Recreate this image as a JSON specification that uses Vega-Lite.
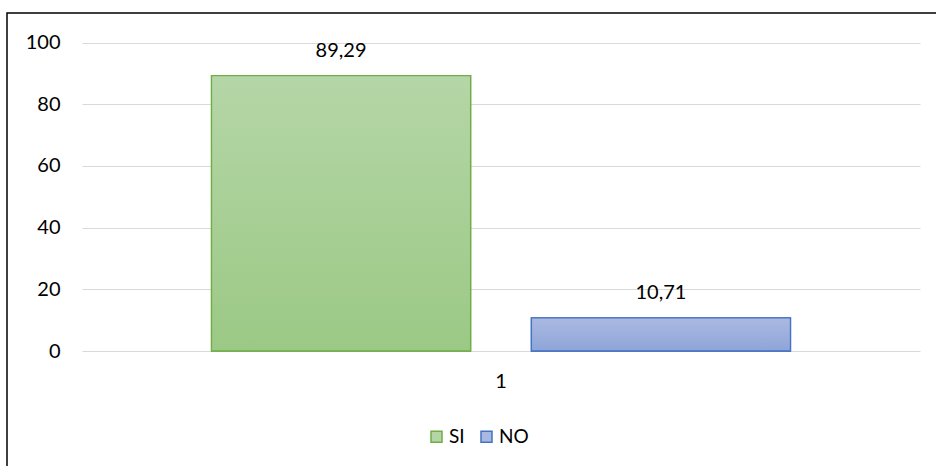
{
  "$schema": "https://vega.github.io/schema/vega-lite/v6.json",
  "width": 932,
  "height": 456,
  "autosize": {"type": "none"},
  "padding": {"left": 7, "top": 13, "right": -3, "bottom": -3},
  "background": "white",
  "config": {
    "locale": {"number": {"decimal": ",", "thousands": ".", "grouping": [3], "currency": ["", " €"]}},
    "view": {"stroke": "#000000", "strokeWidth": 1.5},
    "font": "Lato",
    "text": {"font": "Lato"}
  },
  "data": {
    "values": [
      {"category": "1", "series": "SI", "value": 89.29},
      {"category": "1", "series": "NO", "value": 10.71}
    ]
  },
  "encoding": {
    "x": {
      "field": "category",
      "type": "nominal",
      "scale": {"range": [75, 913], "paddingOuter": 0.2237, "paddingInner": 0},
      "axis": {
        "orient": "bottom",
        "offset": -118,
        "domain": false,
        "ticks": false,
        "tickSize": 0,
        "grid": false,
        "labelAngle": 0,
        "labelPadding": 20,
        "labelFontSize": 20,
        "labelColor": "#000000",
        "labelFont": "Lato",
        "title": null
      }
    },
    "xOffset": {
      "field": "series",
      "type": "nominal",
      "scale": {"domain": ["SI", "NO"], "paddingInner": 0.19, "paddingOuter": 0}
    },
    "y": {
      "field": "value",
      "type": "quantitative",
      "scale": {"domain": [0, 100], "range": [338, 29.5], "nice": false, "zero": true},
      "axis": {
        "orient": "left",
        "offset": -75,
        "values": [0, 20, 40, 60, 80, 100],
        "domain": false,
        "ticks": false,
        "tickSize": 0,
        "grid": true,
        "gridColor": "#d9d9d9",
        "gridWidth": 1,
        "labelPadding": 22,
        "labelFontSize": 20,
        "labelColor": "#000000",
        "labelFont": "Lato",
        "title": null
      }
    }
  },
  "layer": [
    {
      "mark": {"type": "bar", "strokeWidth": 1.3},
      "encoding": {
        "fill": {
          "field": "series",
          "type": "nominal",
          "scale": {"domain": ["SI", "NO"], "range": ["#b4d5a5", "#a9b8e0"]},
          "legend": {
            "orient": "none",
            "legendX": 420,
            "legendY": 414,
            "direction": "horizontal",
            "title": null,
            "symbolType": "square",
            "symbolSize": 121,
            "symbolStrokeWidth": 1.5,
            "labelFontSize": 19,
            "labelFont": "Lato",
            "labelColor": "#000000",
            "labelOffset": 3,
            "columnPadding": 12,
            "padding": 0
          }
        },
        "stroke": {
          "field": "series",
          "type": "nominal",
          "scale": {"domain": ["SI", "NO"], "range": ["#70ad47", "#4472c4"]},
          "legend": {
            "orient": "none",
            "legendX": 420,
            "legendY": 414,
            "direction": "horizontal",
            "title": null,
            "symbolType": "square",
            "symbolSize": 121,
            "symbolStrokeWidth": 1.5,
            "labelFontSize": 19,
            "labelFont": "Lato",
            "labelColor": "#000000",
            "labelOffset": 3,
            "columnPadding": 12,
            "padding": 0
          }
        }
      }
    },
    {
      "transform": [{"filter": "datum.series === 'SI'"}],
      "mark": {
        "type": "bar",
        "stroke": "#70ad47",
        "strokeWidth": 1.3,
        "fill": {
          "gradient": "linear",
          "x1": 0, "y1": 0, "x2": 0, "y2": 1,
          "stops": [
            {"offset": 0, "color": "#b5d6a7"},
            {"offset": 1, "color": "#9bc985"}
          ]
        }
      }
    },
    {
      "transform": [{"filter": "datum.series === 'NO'"}],
      "mark": {
        "type": "bar",
        "stroke": "#4472c4",
        "strokeWidth": 1.3,
        "fill": {
          "gradient": "linear",
          "x1": 0, "y1": 0, "x2": 0, "y2": 1,
          "stops": [
            {"offset": 0, "color": "#abb9e1"},
            {"offset": 1, "color": "#8ea5d9"}
          ]
        }
      }
    },
    {
      "mark": {"type": "text", "baseline": "middle", "dy": -25, "fontSize": 20, "font": "Lato", "color": "#000000"},
      "encoding": {
        "text": {"field": "value", "type": "quantitative", "format": ".2f"}
      }
    }
  ]
}
